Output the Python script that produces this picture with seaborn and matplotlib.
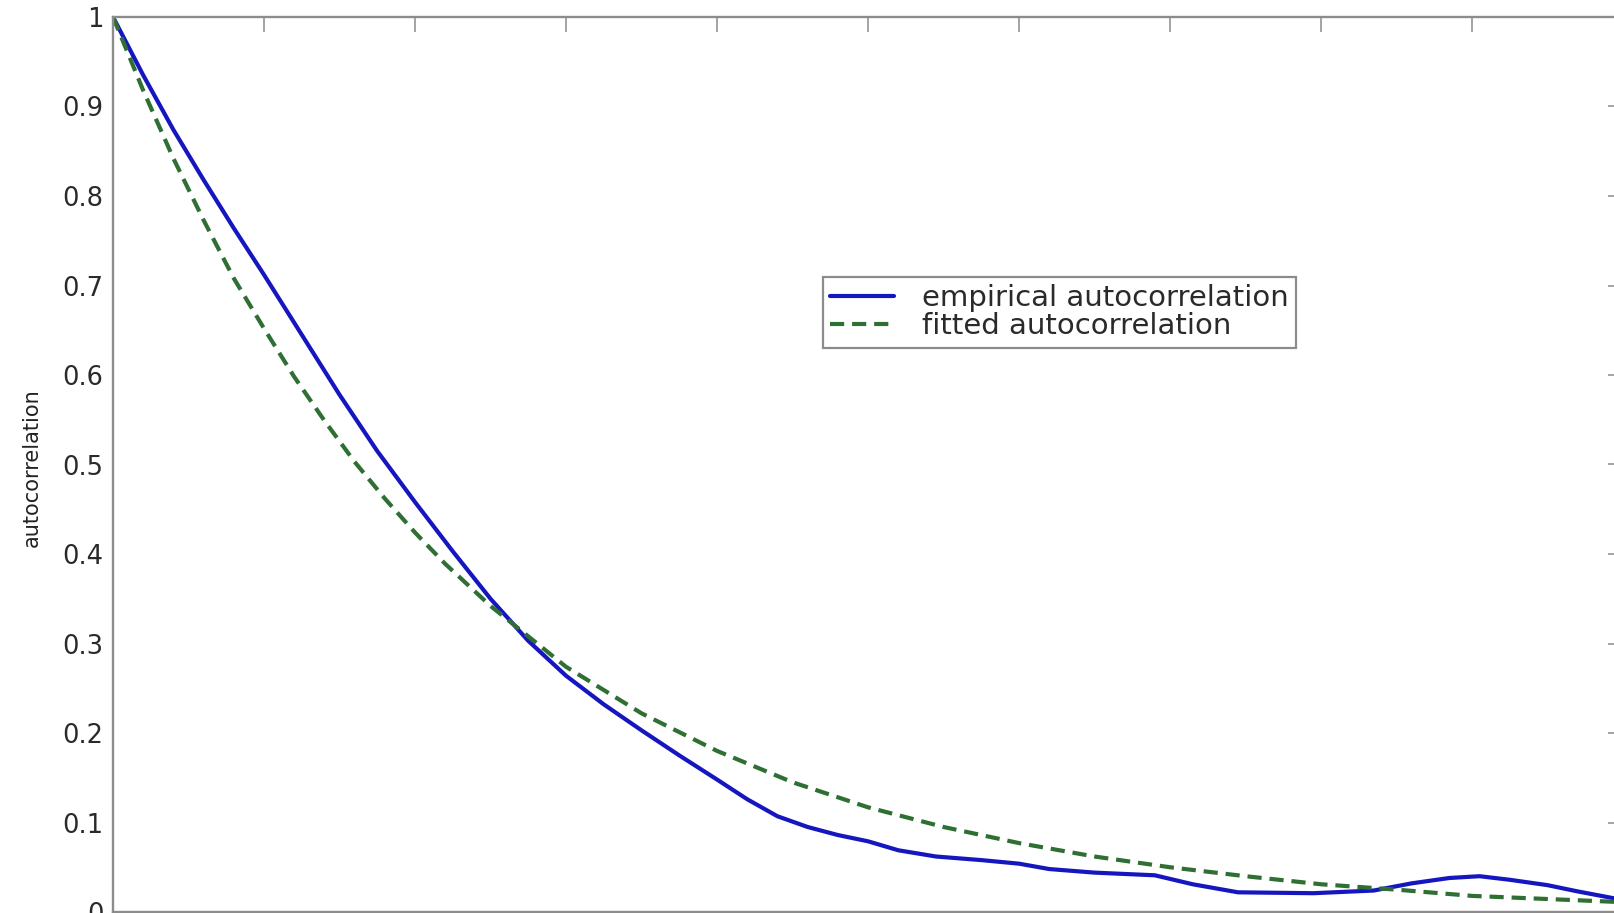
import matplotlib
matplotlib.use("Agg")

import pandas as pd
import matplotlib.pyplot as plt
import seaborn as sns

# valores (lag, autocorrelacion)
lag_empirica = [0, 2, 4, 6, 8, 10, 12.5, 15, 17.5, 20, 22.5, 25, 27.5, 30,
                32.5, 35, 37.5, 40, 42, 44, 46, 48, 50, 52, 54.5, 57.5, 60,
                62, 65, 69, 71.5, 74.5, 79.5, 83.5, 86, 88.5, 90.5, 92.5, 95,
                97, 99.5, 100]
acf_empirica = [1.0, 0.935, 0.874, 0.818, 0.764, 0.712, 0.645, 0.578, 0.515,
                0.458, 0.403, 0.350, 0.303, 0.264, 0.232, 0.203, 0.175, 0.148,
                0.126, 0.107, 0.095, 0.086, 0.079, 0.069, 0.062, 0.058, 0.054,
                0.048, 0.044, 0.041, 0.031, 0.022, 0.021, 0.024, 0.032, 0.038,
                0.040, 0.036, 0.030, 0.023, 0.015, 0.013]

lag_ajustada = [0, 2, 4, 6, 8, 10, 12, 14, 16, 18, 20, 22, 25, 30, 35, 40, 45,
                50, 55, 60, 65, 70, 75, 80, 85, 90, 95, 100]
acf_ajustada = [1.0, 0.918, 0.842, 0.773, 0.708, 0.652, 0.598, 0.549, 0.503,
                0.462, 0.424, 0.389, 0.342, 0.274, 0.222, 0.180, 0.145, 0.117,
                0.095, 0.077, 0.062, 0.050, 0.040, 0.031, 0.025, 0.018, 0.0145,
                0.011]

ticks_y = [0, 0.1, 0.2, 0.3, 0.4, 0.5, 0.6, 0.7, 0.8, 0.9, 1]
etiquetas_y = ["0", "0.1", "0.2", "0.3", "0.4", "0.5", "0.6", "0.7", "0.8", "0.9", "1"]
ticks_x = [0, 10, 20, 30, 40, 50, 60, 70, 80, 90, 100]

nombre_emp = "empirical autocorrelation"
nombre_fit = "fitted autocorrelation"

df_emp = pd.DataFrame({"lag": lag_empirica, "acf": acf_empirica})
df_fit = pd.DataFrame({"lag": lag_ajustada, "acf": acf_ajustada})

sns.set_style("white")
plt.rcParams["font.family"] = ["DejaVu Sans"]

gris = "#8c8c8c"
fig = plt.figure(figsize=(16.14, 9.13), dpi=100)
ax = fig.add_axes([113 / 1614, 1 / 913, 1510 / 1614, 895 / 913])

sns.lineplot(data=df_emp, x="lag", y="acf", ax=ax, color="#1616c0",
             linewidth=3.0, label=nombre_emp)
sns.lineplot(data=df_fit, x="lag", y="acf", ax=ax, color="#2f6f33",
             linewidth=3.0, linestyle=(0, (3.4, 1.9)), label=nombre_fit)

ax.set_xlim(0, 100)
ax.set_ylim(0, 1)
ax.set_xticks(ticks_x)
ax.set_yticks(ticks_y)
ax.set_yticklabels(etiquetas_y)
ax.set_xlabel("")
ax.set_ylabel("autocorrelation", fontsize=15, color="#222222")
ax.yaxis.set_label_coords(-0.047, 0.496)

for lado in ["left", "right", "top", "bottom"]:
    ax.spines[lado].set_visible(True)
    ax.spines[lado].set_color(gris)
    ax.spines[lado].set_linewidth(1.7)

ax.tick_params(axis="both", direction="in", length=10.5, width=1.1,
               color=gris, top=True, right=True, labelsize=18.5,
               labelcolor="#2a2a2a")
ax.tick_params(axis="x", labelbottom=False)
ax.tick_params(axis="y", pad=7)

leg = ax.legend(loc="upper left", bbox_to_anchor=(823 / 1614, 1 - 277 / 913),
                bbox_transform=fig.transFigure, borderaxespad=0,
                fontsize=21, labelspacing=0.0, handlelength=2.2,
                handletextpad=0.95, borderpad=0.25, fancybox=False,
                framealpha=1, edgecolor=gris)
leg.get_frame().set_linewidth(1.6)
for t in leg.get_texts():
    t.set_color("#2a2a2a")

plt.savefig("out.png", dpi=100)
plt.close()
